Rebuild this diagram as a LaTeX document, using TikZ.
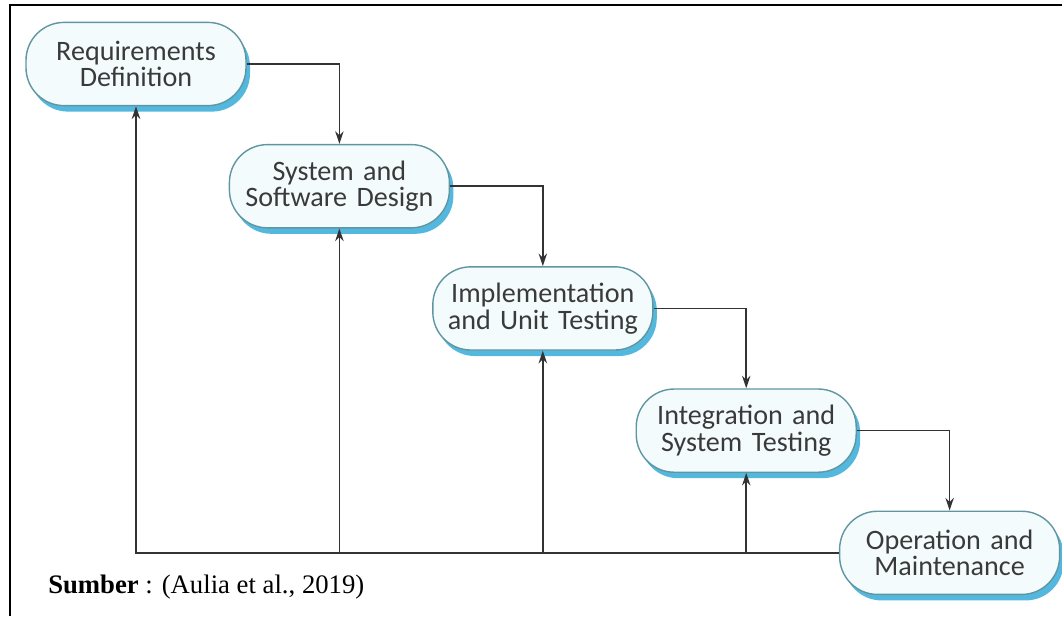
\documentclass[tikz,border=0pt]{standalone}
\usepackage{xcolor}
\usepackage{fontspec}
\setmainfont{Liberation Serif}
\newfontfamily\stagefont{Carlito}
\usepackage{tikz}
\usetikzlibrary{arrows.meta, positioning, shadows, calc}

\definecolor{stagefill}{RGB}{244,251,253}
\definecolor{stageline}{RGB}{96,150,160}
\definecolor{stageshadow}{RGB}{84,184,222}
\definecolor{stagetext}{RGB}{58,58,58}

\begin{document}
\begin{tikzpicture}[
    stage/.style={rectangle, draw=stageline, line width=1pt, fill=stagefill, rounded corners=0.95cm,
        minimum width=5.5cm, minimum height=2.08cm, text width=5.2cm, text centered,
        text=stagetext, font=\stagefont\fontsize{20}{19}\selectfont,
        drop shadow={fill=stageshadow, opacity=1, shadow xshift=0.1cm, shadow yshift=-0.15cm}},
    arrow/.style={-{Stealth[length=9pt, width=6pt]}, line width=1.1pt, draw=black!80}
]
\useasboundingbox (0,0) rectangle (26.55,-15.4);

% frame
\draw[line width=1.4pt] (0.25,-15.4) -- (0.25,-0.125) -- (26.55,-0.125);

% Waterfall stages
\node[stage] at (3.4,-1.6) (req) {Requirements\\Definition};
\node[stage, below right=0.94cm and -0.45cm of req] (sys) {System and\\Software Design};
\node[stage, below right=0.94cm and -0.45cm of sys] (impl) {Implementation\\and Unit Testing};
\node[stage, below right=0.94cm and -0.45cm of impl] (integ) {Integration and\\System Testing};
\node[stage, below right=0.94cm and -0.45cm of integ] (op) {Operation and\\Maintenance};

\draw[arrow] (req.east) -| (sys.north);
\draw[arrow] (sys.east) -| (impl.north);
\draw[arrow] (impl.east) -| (integ.north);
\draw[arrow] (integ.east) -| (op.north);

% Feedback
\coordinate (fbsys) at (sys |- op.west);
\coordinate (fbimpl) at (impl |- op.west);
\coordinate (fbinteg) at (integ |- op.west);

\draw[arrow] (op.west) -| (req.south);
\draw[arrow] (fbsys) -- (sys.south);
\draw[arrow] (fbimpl) -- (impl.south);
\draw[arrow] (fbinteg) -- (integ.south);

% caption
\node[anchor=west, font=\fontsize{19}{22}\selectfont, inner sep=0pt] (src) at (1.2,-14.68) {\textbf{Sumber} : (Aulia et al., 2019)};

\end{tikzpicture}
\end{document}
